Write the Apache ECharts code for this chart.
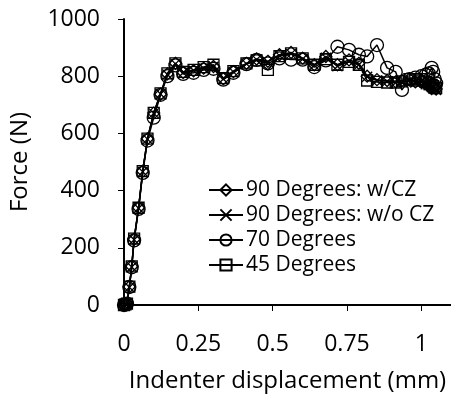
<!DOCTYPE html>
<html><head><meta charset="utf-8">
<script src="https://cdn.jsdelivr.net/npm/echarts@6/dist/echarts.min.js"></script>
<style>html,body{margin:0;padding:0;background:#fff}#c{width:451px;height:398px}</style>
</head><body><div id="c"></div>
<script>
const xDisp = [0, 0.005, 0.01, 0.018, 0.026, 0.034, 0.049, 0.063, 0.079, 0.1, 0.123, 0.146, 0.173, 0.199, 0.234, 0.268, 0.301, 0.334, 0.368, 0.412, 0.446, 0.484, 0.523, 0.562, 0.601, 0.64, 0.679, 0.718, 0.757, 0.79, 0.818, 0.851, 0.885, 0.914, 0.935, 0.96, 0.98, 1.0, 1.015, 1.025, 1.035, 1.04, 1.045, 1.05];
const f90wCZ = [0,2,5,64,135,230,340,468,581,671,737,808,845,813,819,828,834,791,816,845,860,852,875,883,863,840,869,840,857,845,800,788,785,780,785,790,780,785,775,770,765,760,760,755];
const f90woCZ = [0,2,5,62,133,228,338,466,580,670,738,806,843,812,820,827,833,790,815,843,858,850,872,878,860,838,865,835,852,840,798,785,782,778,780,785,778,780,772,768,762,758,755,752];
const f70 = [0,2,5,63,132,226,336,462,575,655,735,800,838,808,812,822,826,788,812,842,857,845,862,858,858,832,855,903,892,875,869,909,829,815,752,790,795,800,805,810,829,815,790,775];
const f45 = [0,2,5,64,135,232,340,468,582,672,740,810,845,815,822,832,840,793,818,845,855,822,870,880,862,840,860,840,850,840,785,780,778,778,782,790,785,790,780,775,770,765,760,758];
const seriesNames = ['90 Degrees: w/CZ', '90 Degrees: w/o CZ', '70 Degrees', '45 Degrees'];
const xTicks = [0, 0.25, 0.5, 0.75, 1];
const yTicks = [0, 200, 400, 600, 800, 1000];

const FONT = 'Open Sans';
const crossPath = 'path://M0,0L10,10M10,0L0,10';
const symbols = ['diamond', crossPath, 'circle', 'rect'];
const sizes = [12, 10, 13, 11];
const datas = [f90wCZ, f90woCZ, f70, f45];

const chart = echarts.init(document.getElementById('c'));
chart.setOption({
  animation: false,
  backgroundColor: '#fff',
  grid: {left: 123, right: -2, top: 19, bottom: 92, containLabel: false},
  xAxis: {
    type: 'value', min: 0, max: 1.1, interval: 0.25,
    name: 'Indenter displacement (mm)', nameLocation: 'middle', nameGap: 64,
    nameTextStyle: {fontFamily: FONT, fontSize: 24, color: '#000'},
    axisLine: {lineStyle: {color: '#000', width: 2}},
    axisTick: {show: true, length: 6, inside: false, lineStyle: {color: '#000', width: 1}},
    axisLabel: {fontFamily: FONT, fontSize: 23, color: '#000', margin: 28, showMaxLabel: false,
      formatter: v => xTicks.includes(Math.round(v*100)/100) ? String(Math.round(v*100)/100) : ''},
    splitLine: {show: false}
  },
  yAxis: {
    type: 'value', min: 0, max: 1000, interval: 200,
    name: 'Force (N)', nameLocation: 'middle', nameGap: 92,
    nameTextStyle: {fontFamily: FONT, fontSize: 24, color: '#000'},
    axisLine: {show: true, lineStyle: {color: '#000', width: 2}},
    axisTick: {show: true, length: 6, lineStyle: {color: '#000', width: 1}},
    axisLabel: {fontFamily: FONT, fontSize: 23, color: '#000', margin: 24,
      formatter: v => yTicks.includes(v) ? String(v) : ''},
    splitLine: {show: false}
  },
  legend: {
    orient: 'vertical', left: 203, top: 174, itemWidth: 34, itemHeight: 14, itemGap: 3,
    textStyle: {fontFamily: FONT, fontSize: 21, color: '#000', lineHeight: 22, padding: [0,0,0,-2]},
    data: seriesNames
  },
  series: seriesNames.map((n, i) => ({
    name: n, type: 'line',
    data: xDisp.map((x, j) => [x, datas[i][j]]),
    symbol: symbols[i], symbolSize: sizes[i], showAllSymbol: true,
    lineStyle: {color: '#000', width: 1.5},
    itemStyle: {color: 'rgba(255,255,255,0)', borderColor: '#000', borderWidth: 1.3},
    z: 2 + i
  }))
});
</script></body></html>
